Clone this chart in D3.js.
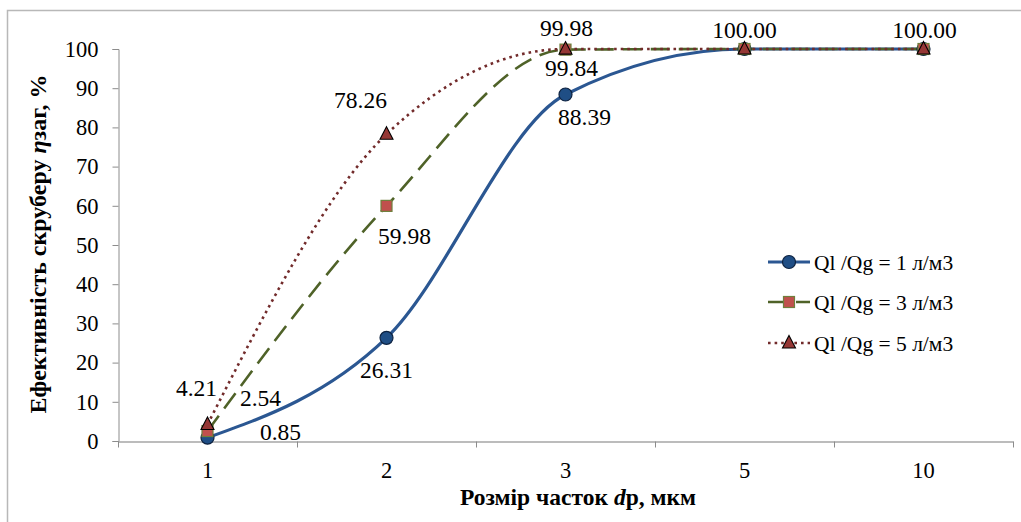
<!DOCTYPE html>
<html>
<head>
<meta charset="utf-8">
<script src="https://cdn.jsdelivr.net/npm/d3@7"></script>
<style>
  body { margin: 0; background: #fff; }
  svg text { font-family: "Liberation Serif", Tinos, "Times New Roman", Times, serif; fill: #000; }
</style>
</head>
<body>
<div id="chart"></div>
<script>
// categories (particle size, um) and the three series
var sizes = ["1", "2", "3", "5", "10"];
var ratio1 = [0.85, 26.31, 88.39, 100.00, 100.00];
var ratio3 = [2.54, 59.98, 99.84, 100.00, 100.00];
var ratio5 = [4.21, 78.26, 99.98, 100.00, 100.00];
var seriesNames = ["Ql /Qg = 1 л/м3", "Ql /Qg = 3 л/м3", "Ql /Qg = 5 л/м3"];
var yTicks = [0, 10, 20, 30, 40, 50, 60, 70, 80, 90, 100];

var width = 1021, height = 522;
var margin = {top: 49, right: 8, bottom: 81, left: 118};

var svg = d3.select("#chart")
  .append("svg")
  .attr("width", width)
  .attr("height", height);

// chart frame
svg.append("rect")
  .attr("x", 7.5).attr("y", 10.5)
  .attr("width", 1030).attr("height", 530)
  .attr("fill", "none")
  .attr("stroke", "#b8b8b8")
  .attr("stroke-width", 1.5);

var x = d3.scaleBand()
  .domain(sizes)
  .range([margin.left, width - margin.right])
  .padding(0);

var y = d3.scaleLinear()
  .domain([0, 100])
  .range([height - margin.bottom, margin.top]);

var cx = d => x(d) + x.bandwidth() / 2;

// y axis
var yAxis = svg.append("g")
  .attr("transform", `translate(${margin.left + 0.5},0)`)
  .call(d3.axisLeft(y).tickValues(yTicks).tickSize(6).tickPadding(14));
yAxis.attr("font-family", null);
yAxis.selectAll("line, path").attr("stroke", "#8c8c8c");
yAxis.selectAll("text").style("font-size", "22.5px");

// x axis, ticks sit between categories
var xAxis = svg.append("g")
  .attr("transform", `translate(0,${y(0) + 0.5})`)
  .call(d3.axisBottom(x).tickSize(0).tickPadding(21));
xAxis.attr("font-family", null);
xAxis.select("path").attr("stroke", "#a6a6a6").attr("stroke-width", 1.5);
xAxis.selectAll("text").style("font-size", "22.5px");
var bounds = sizes.map(d => x(d)).concat([x.range()[1]]);
xAxis.selectAll(".bnd")
  .data(bounds)
  .join("line")
  .attr("x1", d => Math.round(d) + 0.5)
  .attr("x2", d => Math.round(d) + 0.5)
  .attr("y1", 0).attr("y2", 6)
  .attr("stroke", "#8c8c8c");

// axis titles
svg.append("text")
  .attr("x", 578).attr("y", 505)
  .attr("text-anchor", "middle")
  .style("font-size", "23.5px").style("font-weight", "bold")
  .html('Розмір часток <tspan font-style="italic">d</tspan>p, мкм');

svg.append("text")
  .attr("transform", "translate(46,244) rotate(-90)")
  .attr("text-anchor", "middle")
  .style("font-size", "24px").style("font-weight", "bold")
  .html('Ефективність скруберу <tspan font-style="italic">η</tspan>заг, %');

var line = d3.line()
  .x((d, i) => cx(sizes[i]))
  .y(d => y(d))
  .curve(d3.curveMonotoneX);

var series = [
  {name: seriesNames[0], values: ratio1, stroke: "#2b5792", width: 3.2, dash: null, marker: "circle",
   labels: [[73, -6], [0, 32], [19, 22], [0, 0], [0, 0]]},
  {name: seriesNames[1], values: ratio3, stroke: "#4f6228", width: 2.6, dash: "19,9", marker: "square",
   labels: [[53, -33], [18, 30], [6, 18], [0, 0], [0, 0]]},
  {name: seriesNames[2], values: ratio5, stroke: "#722b2b", width: 2.6, dash: "2.6,4", marker: "triangle",
   labels: [[-11, -37], [-26, -34], [1, -21], [0, -19], [1, -19]]}
];

function drawMarker(g, type, px, py) {
  if (type === "circle") {
    g.append("circle").attr("cx", px).attr("cy", py).attr("r", 6.5)
      .attr("fill", "#1f4e85").attr("stroke", "#0d2240").attr("stroke-width", 1.2);
  } else if (type === "square") {
    g.append("rect").attr("x", px - 5.5).attr("y", py - 5.5).attr("width", 11).attr("height", 11)
      .attr("fill", "#c0504d").attr("stroke", "#6f7f3c").attr("stroke-width", 1.2);
  } else {
    g.append("path").attr("d", `M${px},${py - 7.5}L${px + 6.5},${py + 5}L${px - 6.5},${py + 5}Z`)
      .attr("fill", "#953735").attr("stroke", "#000").attr("stroke-width", 1.1);
  }
}

var plot = svg.append("g");
series.forEach(s => {
  plot.append("path")
    .datum(s.values)
    .attr("d", line)
    .attr("fill", "none")
    .attr("stroke", s.stroke)
    .attr("stroke-width", s.width)
    .attr("stroke-dasharray", s.dash);
});
series.forEach(s => {
  s.values.forEach((v, i) => drawMarker(plot, s.marker, cx(sizes[i]), y(v)));
});

// data labels
series.forEach((s, si) => {
  s.values.forEach((v, i) => {
    if (si < 2 && i > 2) return;
    plot.append("text")
      .attr("x", cx(sizes[i]) + s.labels[i][0])
      .attr("y", y(v) + s.labels[i][1])
      .attr("dy", "0.35em")
      .attr("text-anchor", "middle")
      .style("font-size", "23.5px")
      .text(v.toFixed(2));
  });
});

// legend
var legend = svg.append("g").attr("transform", "translate(768,262)");
series.forEach((s, i) => {
  var ly = [0, 40, 81][i];
  legend.append("line")
    .attr("x1", 0).attr("x2", 42).attr("y1", ly).attr("y2", ly)
    .attr("stroke", s.stroke).attr("stroke-width", s.width)
    .attr("stroke-dasharray", s.dash);
  drawMarker(legend, s.marker, 21, ly);
  legend.append("text")
    .attr("x", 46).attr("y", ly).attr("dy", "0.35em")
    .style("font-size", "21.5px")
    .text(s.name);
});
</script>
</body>
</html>
